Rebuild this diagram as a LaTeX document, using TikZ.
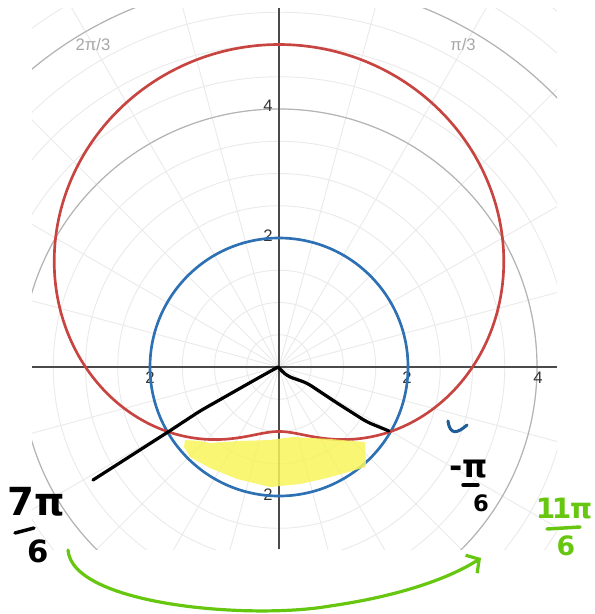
\documentclass[tikz,border=0pt]{standalone}
\usepackage{fontspec}
\setsansfont{Liberation Sans}
\newfontfamily\handfont{DejaVu Sans}
\usetikzlibrary{arrows.meta}
\definecolor{dred}{HTML}{C74440}
\definecolor{dblue}{HTML}{2D70B3}
\definecolor{gminor}{HTML}{EAEAEA}
\definecolor{gmajor}{HTML}{B4B4B4}
\definecolor{axcol}{HTML}{4A4A4A}
\definecolor{lblcol}{HTML}{333333}
\definecolor{anglecol}{HTML}{A8A8A8}
\definecolor{hlyellow}{HTML}{F7F45A}
\definecolor{hgreen}{HTML}{66C610}
\definecolor{hblue}{HTML}{1F5E99}
\tikzset{
  gridminor/.style={draw=gminor, line width=0.7pt},
  gridmajor/.style={draw=gmajor, line width=0.9pt},
  axisline/.style={draw=axcol, line width=1.1pt},
  numlabel/.style={text=lblcol, font=\sffamily\fontsize{12.5}{14}\selectfont, inner sep=0pt},
  anglelabel/.style={text=anglecol, font=\sffamily\fontsize{12.5}{14}\selectfont, inner sep=0pt},
  curvered/.style={draw=dred, line width=2pt},
  curveblue/.style={draw=dblue, line width=2pt},
  handline/.style={draw=black, line width=2.4pt, line cap=round, line join=round},
  handtext/.style={inner sep=0pt},
  handbar/.style={line width=2.6pt, line cap=round},
  greenarrow/.style={draw=hgreen, line width=2.4pt, line cap=round, line join=round},
}
\begin{document}
\begin{tikzpicture}[x=0.75pt,y=-0.75pt]
\useasboundingbox (0,0) rectangle (595,614);
% polar grid
\begin{scope}
  \clip (32,8) rectangle (557,549);
  \begin{scope}[shift={(209.25pt,-275.25pt)}, x=48.375pt, y=48.375pt]
    \foreach \r in {0.5,1,...,7.5} \draw[gridminor] (0,0) circle (\r);
    \foreach \a in {0,15,...,345} \draw[gridminor] (0,0) -- (\a:8);
    \foreach \r in {2,4,6} \draw[gridmajor] (0,0) circle (\r);
  \end{scope}
\end{scope}
% axes
\coordinate (xl) at (32,367);
\coordinate (xr) at (557,367);
\coordinate (yt) at (279,8);
\coordinate (yb) at (279,549);
\draw[axisline] (xl) -- (xr);
\draw[axisline] (yt) -- (yb);
% axis labels
\node[numlabel] (ly4) at (268,106) {4};
\node[numlabel] (ly2) at (268,236) {2};
\node[numlabel] (lym2) at (268,495) {2};
\node[numlabel] (lxm2) at (150,378) {2};
\node[numlabel] (lx2) at (407,378) {2};
\node[numlabel] (lx4) at (538,378) {4};
\node[anglelabel] (a23) at (93,45) {2π/3};
\node[anglelabel] (a13) at (463,45) {π/3};
% curves
\begin{scope}[shift={(209.25pt,-275.25pt)}, x=48.375pt, y=48.375pt]
  \draw[curveblue] (0,0) circle (2);
  \draw[curvered] plot[smooth cycle, samples=180, domain=0:358]
    ({(3+2*sin(\x))*cos(\x)}, {(3+2*sin(\x))*sin(\x)});
\end{scope}
% yellow highlight
\fill[hlyellow, fill opacity=0.85]
  (185,440) -- (200,441) -- (210,443) -- (240,441) -- (270,440) -- (293,437)
  -- (330,439) -- (365,442) -- (366,467) -- (327,478) -- (300,484) -- (270,487)
  -- (237,479) -- (210,468) -- (190,457) -- (184,447) -- cycle;
% hand-drawn black lines
\coordinate (O) at (278,367);
\coordinate (R) at (389,431);
\coordinate (L) at (93,480);
\draw[handline, rounded corners=4pt] (O) -- (287,376) -- (307,383) -- (337,403) -- (367,422) -- (R);
\draw[handline, rounded corners=4pt] (O) -- (260,377) -- (237,390) -- (200,411) -- (168,432) -- (L);
% handwritten labels
\node[handtext, font=\handfont\bfseries\fontsize{29}{32}\selectfont] (t7n) at (36,502) {7π};
\draw[handbar] (15,533) -- (34,528);
\node[handtext, font=\handfont\bfseries\fontsize{23}{26}\selectfont] (t7d) at (38,551) {6};
\node[handtext, font=\handfont\bfseries\fontsize{24}{27}\selectfont] (tmn) at (469,469) {-π};
\draw[handbar] (463,485) -- (478,485);
\node[handtext, font=\handfont\bfseries\fontsize{17}{20}\selectfont] (tmd) at (481,503) {6};
\node[handtext, text=hgreen, font=\handfont\bfseries\fontsize{21}{24}\selectfont] (t11n) at (564,509) {1\kern-2.5pt1\kern-1pt π};
\draw[handbar, draw=hgreen] (547,529) -- (580,527);
\node[handtext, text=hgreen, font=\handfont\bfseries\fontsize{20}{23}\selectfont] (t11d) at (566,546) {6};
% blue tick mark
\coordinate (b1) at (448,421);
\coordinate (b2) at (467,425);
\draw[draw=hblue, line width=2.3pt, line cap=round] (b1) .. controls (450,436) and (458,433) .. (b2);
% green arrow
\coordinate (g1) at (68,550);
\coordinate (g2) at (481,558);
\draw[greenarrow, -{Straight Barb[length=7pt,width=16pt]}] (g1) .. controls (72,605) and (250,620) .. (330,606) .. controls (400,596) and (450,578) .. (g2);
\end{tikzpicture}
\end{document}
